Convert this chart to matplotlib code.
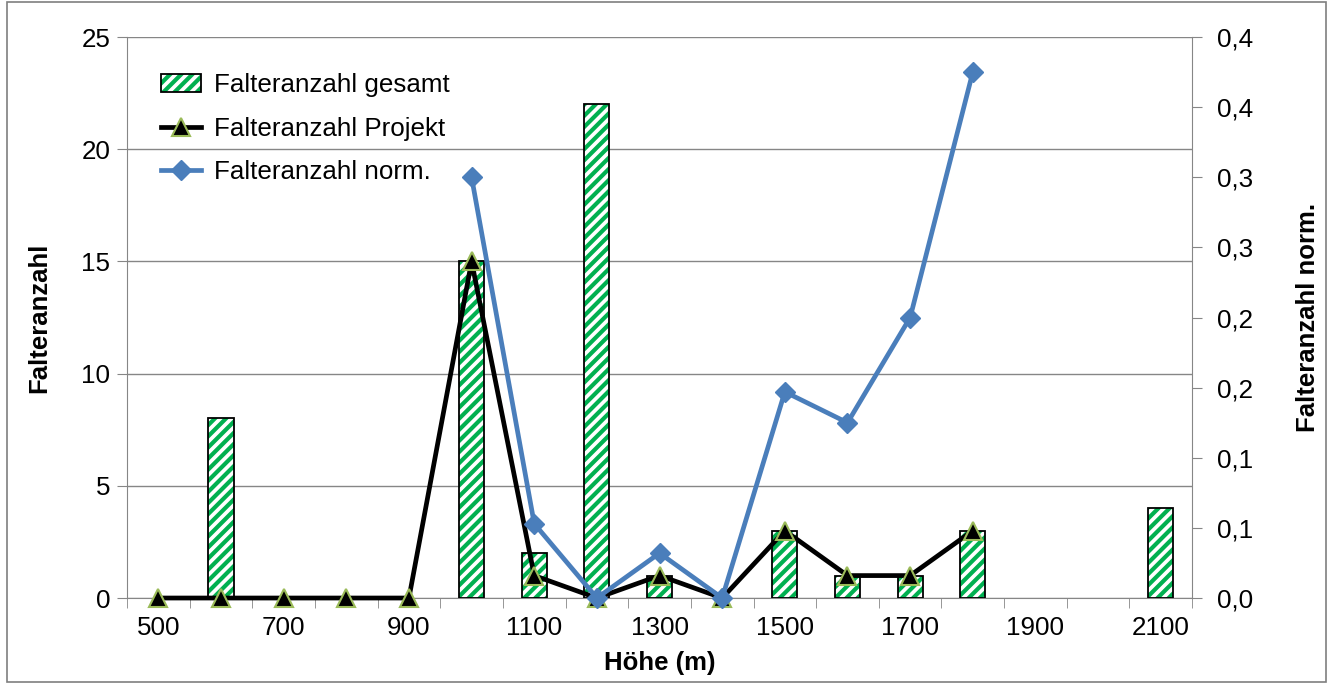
import numpy as np
import matplotlib
matplotlib.use("Agg")
import matplotlib.pyplot as plt
from matplotlib.patches import Rectangle
from matplotlib.ticker import FuncFormatter, MultipleLocator

plt.rcParams['font.family'] = ['Liberation Sans', 'DejaVu Sans']
plt.rcParams['hatch.linewidth'] = 3.0

# === Daten ===
hoehe = [500, 600, 700, 800, 900, 1000, 1100, 1200, 1300, 1400, 1500,
         1600, 1700, 1800, 1900, 2000, 2100]
gesamt = [0, 8, 0, 0, 0, 15, 2, 22, 1, 0, 3, 1, 1, 3, 0, 0, 4]
projekt = [0, 0, 0, 0, 0, 15, 1, 0, 1, 0, 3, 1, 1, 3, np.nan, np.nan, np.nan]
norm = [np.nan, np.nan, np.nan, np.nan, np.nan, 0.30, 0.053, 0.0, 0.032, 0.0,
        0.147, 0.125, 0.20, 0.375, np.nan, np.nan, np.nan]

x = np.arange(len(hoehe))
grau = "#868686"
fs = 18.7

fig = plt.figure(figsize=(13.3, 6.84), dpi=100)
ax = fig.add_axes([0.0955, 0.1257, 0.8008, 0.8202])
ax2 = ax.twinx()

# Balken nur wo Werte > 0 (gruene Schraffur + schwarzer Rand)
g = np.array(gesamt)
xb = x[g > 0]
b1 = ax.bar(xb, g[g > 0], width=0.4, color="white", edgecolor="#00b050",
            hatch="///", linewidth=0, zorder=2)
b2 = ax.bar(xb, g[g > 0], width=0.4, fill=False, edgecolor="black",
            linewidth=1.3, zorder=3)

l1, = ax.plot(x, projekt, color="black", lw=3.4, marker="^", ms=13,
              markerfacecolor="black", markeredgecolor="#9bbb59",
              markeredgewidth=1.5, zorder=4, clip_on=False,
              label="Falteranzahl Projekt")
l2, = ax2.plot(x, norm, color="#4a7ebb", lw=3.4, marker="D", ms=10,
               markerfacecolor="#4a7ebb", markeredgecolor="#4a7ebb",
               zorder=5, clip_on=False, label="Falteranzahl norm.")

# Achsen
ax.set_xlim(-0.5, len(hoehe) - 0.5)
ax.set_ylim(0, 25)
ax2.set_ylim(0, 0.4)
ax.yaxis.set_major_locator(MultipleLocator(5))
ax2.yaxis.set_major_locator(MultipleLocator(0.05))
ax2.yaxis.set_major_formatter(FuncFormatter(
    lambda v, p: ("%.1f" % (np.floor(v * 10 + 0.5 + 1e-9) / 10)).replace(".", ",")))

ax.set_xticks(x[::2])
ax.set_xticklabels([str(h) for h in hoehe[::2]])
ax.set_xticks(np.arange(-0.5, len(hoehe), 1), minor=True)
ax.tick_params(axis="x", which="major", length=0, pad=13, labelsize=fs)
ax.tick_params(axis="x", which="minor", length=7, color=grau, direction="out")
ax.tick_params(axis="y", length=7, color=grau, labelsize=fs, pad=5)
ax2.tick_params(axis="y", length=7, color=grau, labelsize=fs, pad=11)

ax.grid(axis="y", color=grau, lw=1)
ax.set_axisbelow(True)
for a in (ax, ax2):
    a.spines["top"].set_visible(False)
    for s in ("left", "right", "bottom"):
        a.spines[s].set_color(grau)
ax2.spines["left"].set_visible(False)
ax2.spines["bottom"].set_visible(False)
ax.spines["right"].set_visible(False)

ax.set_xlabel("Höhe (m)", fontsize=18.5, fontweight="bold", labelpad=8)
ax.set_ylabel("Falteranzahl", fontsize=18.5, fontweight="bold", labelpad=22)
ax2.set_ylabel("Falteranzahl norm.", fontsize=18.5, fontweight="bold", labelpad=31)

# Legende
leg = ax2.legend([(b1[0], b2[0]), l1, l2],
                 ["Falteranzahl gesamt", "Falteranzahl Projekt", "Falteranzahl norm."],
                 loc="upper left", bbox_to_anchor=(0.022, 0.954), frameon=False,
                 fontsize=fs, handlelength=1.55, handletextpad=0.5,
                 labelspacing=0.75, borderaxespad=0)

# Rahmen um die Grafik
fig.patches.append(Rectangle((0.005, 0.003), 0.992, 0.994, transform=fig.transFigure,
                             fill=False, edgecolor="#7f7f7f", lw=1.2))

fig.savefig("out.png", dpi=100)
